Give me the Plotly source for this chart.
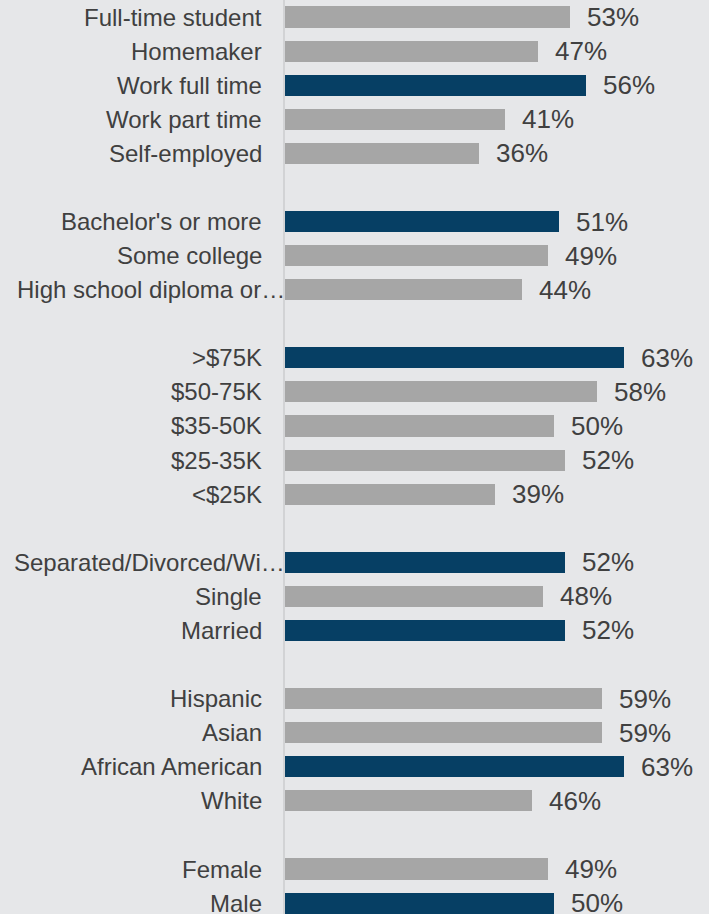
import plotly.graph_objects as go

# groups of categories, top to bottom, a blank row between groups
group_labels = [
    ["Full-time student", "Homemaker", "Work full time", "Work part time", "Self-employed"],
    ["Bachelor's or more", "Some college", "High school diploma or…"],
    [">$75K", "$50-75K", "$35-50K", "$25-35K", "<$25K"],
    ["Separated/Divorced/Wi…", "Single", "Married"],
    ["Hispanic", "Asian", "African American", "White"],
    ["Female", "Male"],
]
group_values = [
    [53, 47, 56, 41, 36],
    [51, 49, 44],
    [63, 58, 50, 52, 39],
    [52, 48, 52],
    [59, 59, 63, 46],
    [49, 50],
]

NAVY = "#063f64"
GRAY = "#a6a6a6"
BG = "#e6e7e9"
TXT = "#404040"
FONT = "Liberation Sans, Arial, sans-serif"

rows, labels, values, colors = [], [], [], []
pos = 0
for labs, vals in zip(group_labels, group_values):
    top = max(vals)
    for lab, v in zip(labs, vals):
        rows.append(pos)
        labels.append(lab)
        values.append(v)
        colors.append(NAVY if v == top else GRAY)
        pos += 1
    pos += 1  # blank row
last_row = pos - 2

fig = go.Figure(go.Bar(
    x=values, y=rows, orientation="h",
    marker=dict(color=colors, line=dict(width=0)),
    width=0.62, hoverinfo="skip",
))

for r, lab, v in zip(rows, labels, values):
    # category label, truncated ones run up to the axis
    fig.add_annotation(xref="paper", x=0, y=r, text=lab, showarrow=False,
                       xanchor="right", yanchor="middle",
                       xshift=2 if lab.endswith("…") else -21,
                       font=dict(size=24, color=TXT, family=FONT))
    # value label right of the bar
    fig.add_annotation(x=v, y=r, text=f"{v}%", showarrow=False,
                       xanchor="left", yanchor="middle", xshift=15,
                       font=dict(size=26, color=TXT, family=FONT))

fig.update_layout(
    width=709, height=914,
    margin=dict(l=285, r=0, t=0, b=0, autoexpand=False),
    paper_bgcolor=BG, plot_bgcolor=BG,
    showlegend=False,
    font=dict(family=FONT, color=TXT),
    bargap=0,
)
fig.update_xaxes(range=[0, 78.85], visible=False, showgrid=False, zeroline=False)
fig.update_yaxes(
    range=[last_row + 0.32, -0.5],
    showticklabels=False, automargin=False,
    showgrid=False, zeroline=False,
    showline=True, linecolor="#d2d3d5", linewidth=2,
    ticks="",
)

fig.write_html("out.html", config={"displayModeBar": False},
               post_script="document.body.style.margin='0';document.body.style.overflow='hidden';")
